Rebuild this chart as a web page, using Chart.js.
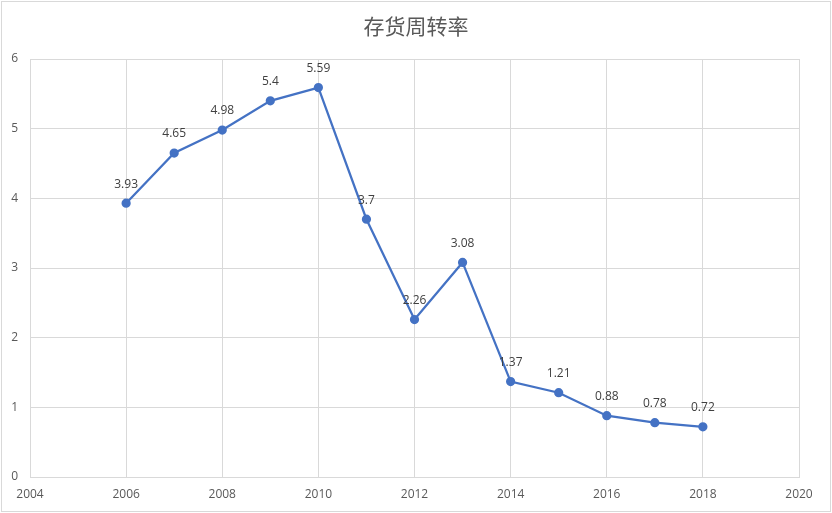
<!DOCTYPE html>
<html>
<head>
<meta charset="utf-8">
<script src="https://cdn.jsdelivr.net/npm/chart.js@4"></script>
<style>
  html, body { margin: 0; padding: 0; background: #fff; }
  #wrap { width: 832px; height: 513px; }
</style>
</head>
<body>
<div id="wrap"><canvas id="turnoverChart" width="832" height="513"></canvas></div>
<script>
// Data
const years = [2006, 2007, 2008, 2009, 2010, 2011, 2012, 2013, 2014, 2015, 2016, 2017, 2018];
const turnover = [3.93, 4.65, 4.98, 5.4, 5.59, 3.7, 2.26, 3.08, 1.37, 1.21, 0.88, 0.78, 0.72];
const xTicks = [2004, 2006, 2008, 2010, 2012, 2014, 2016, 2018, 2020];
const yTicks = [0, 1, 2, 3, 4, 5, 6];
const chartTitle = '存货周转率';

const gridColor = '#d9d9d9';
const textColor = '#595959';
const lineColor = '#4472c4';

// white background, light frame and the title centred on the whole picture
const framePlugin = {
    id: 'frame',
    beforeDraw(chart) {
        const ctx = chart.ctx;
        ctx.save();
        ctx.fillStyle = '#fff';
        ctx.fillRect(0, 0, chart.width, chart.height);
        ctx.strokeStyle = '#d9d9d9';
        ctx.lineWidth = 1;
        ctx.strokeRect(1.5, 1.5, chart.width - 3, chart.height - 3);
        ctx.font = '21px "Noto Sans CJK SC", sans-serif';
        ctx.fillStyle = textColor;
        ctx.textAlign = 'center';
        ctx.textBaseline = 'middle';
        ctx.fillText(chartTitle, chart.width / 2, 26);
        ctx.restore();
    }
};

// value labels above each point
const valueLabels = {
    id: 'valueLabels',
    afterDatasetsDraw(chart) {
        const ctx = chart.ctx;
        const meta = chart.getDatasetMeta(0);
        ctx.save();
        ctx.font = '12px "Open Sans", "DejaVu Sans", sans-serif';
        ctx.fillStyle = '#404040';
        ctx.textAlign = 'center';
        ctx.textBaseline = 'middle';
        meta.data.forEach((pt, i) => {
            ctx.fillText(String(turnover[i]), pt.x, pt.y - 19);
        });
        ctx.restore();
    }
};

new Chart(document.getElementById('turnoverChart'), {
    type: 'line',
    data: {
        datasets: [{
            label: chartTitle,
            data: years.map((y, i) => ({ x: y, y: turnover[i] })),
            borderColor: lineColor,
            backgroundColor: lineColor,
            borderWidth: 2.25,
            pointRadius: 3.5,
            pointHoverRadius: 3.5,
            tension: 0
        }]
    },
    options: {
        responsive: false,
        animation: false,
        layout: { padding: { left: 0, right: 33, top: 59, bottom: 0 } },
        scales: {
            x: {
                type: 'linear',
                min: 2004,
                max: 2020,
                afterBuildTicks: (scale) => { scale.ticks = xTicks.map(v => ({ value: v })); },
                afterFit: (scale) => { scale.height = 36; },
                grid: { color: gridColor, drawTicks: false },
                border: { color: gridColor },
                ticks: {
                    color: textColor,
                    padding: 10,
                    font: { size: 12, family: '"Open Sans", "DejaVu Sans", sans-serif' },
                    callback: v => String(v),
                    maxRotation: 0,
                    autoSkip: false
                }
            },
            y: {
                min: 0,
                max: 6,
                afterBuildTicks: (scale) => { scale.ticks = yTicks.map(v => ({ value: v })); },
                afterFit: (scale) => { scale.width = 30; },
                grid: { color: gridColor, drawTicks: false },
                border: { color: gridColor },
                ticks: {
                    color: textColor,
                    padding: 12,
                    font: { size: 12, family: '"Open Sans", "DejaVu Sans", sans-serif' },
                    callback: v => String(v)
                }
            }
        },
        plugins: {
            legend: { display: false },
            tooltip: { enabled: false },
            title: { display: false }
        }
    },
    plugins: [framePlugin, valueLabels]
});
</script>
</body>
</html>
